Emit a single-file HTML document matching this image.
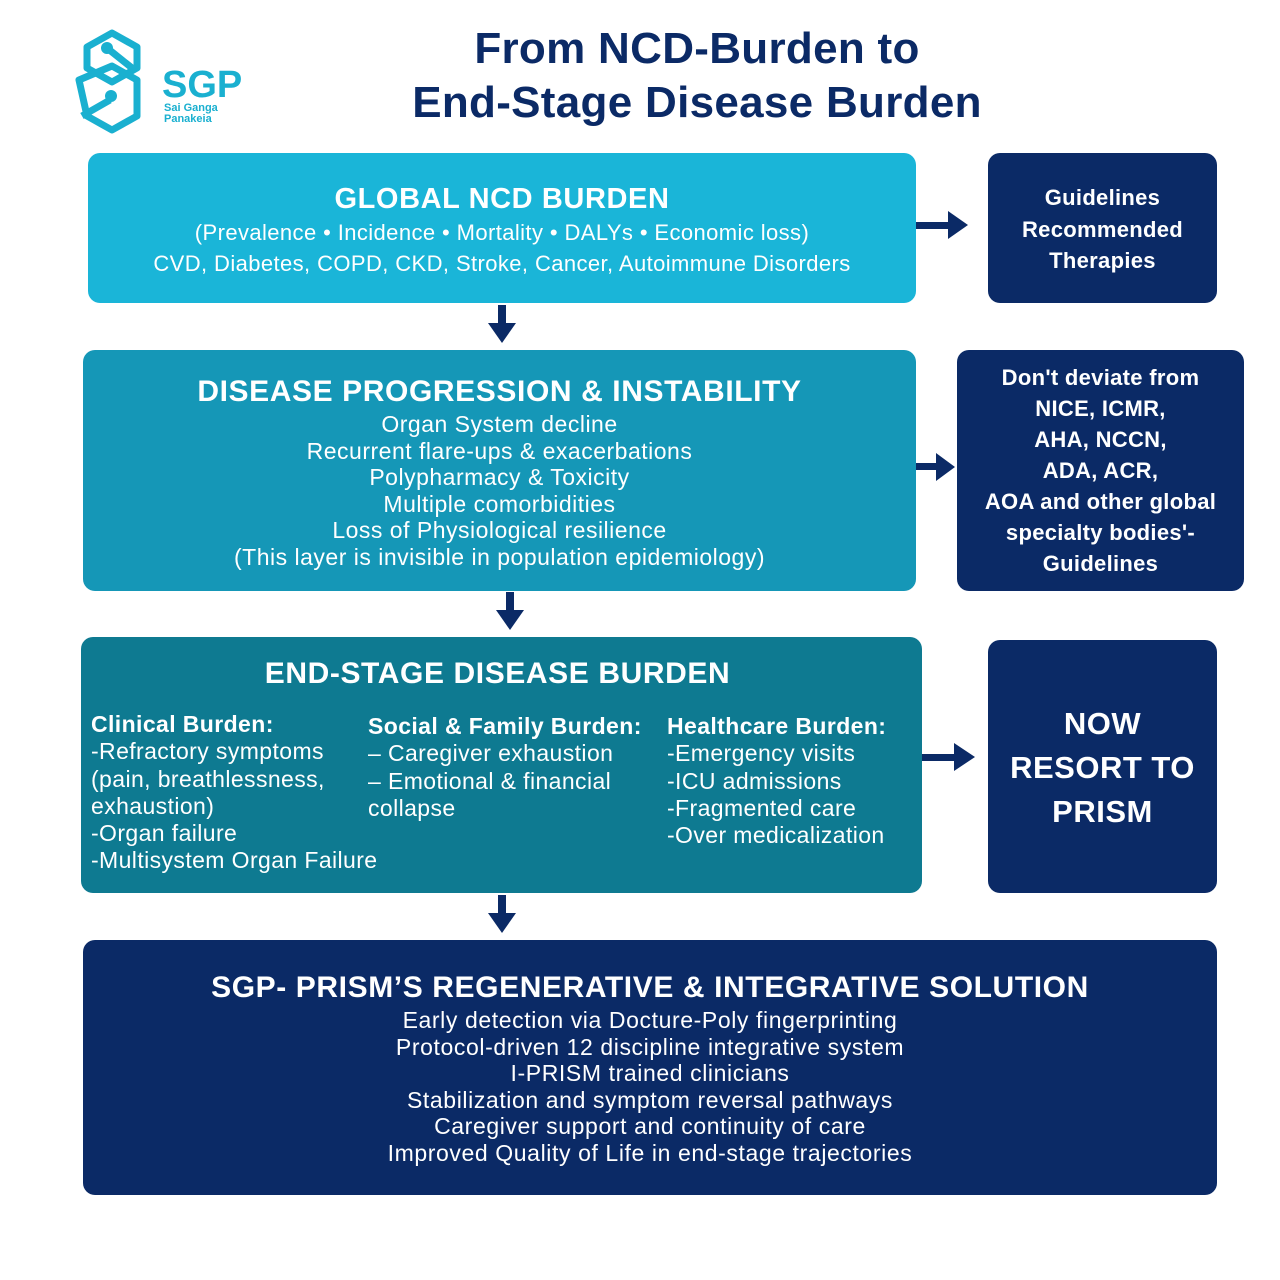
<!DOCTYPE html>
<html><head><meta charset="utf-8"><style>
body{margin:0;width:1280px;height:1280px;background:#fff;position:relative;font-family:"Liberation Sans",sans-serif;overflow:hidden}
.b{position:absolute;border-radius:12px;color:#fff;text-align:center;box-sizing:border-box}
.h{font-weight:bold}
.t{position:absolute;white-space:nowrap}
svg{position:absolute;left:0;top:0}
.hd{letter-spacing:0.6px}
</style></head><body>
<svg width="1280" height="1280">
<g fill="none" stroke="#1ab0d0" stroke-width="7" stroke-linejoin="round">
<path d="M112 33 L137 47 L137 68 L112 82 L87 68 L87 47 Z"/>
<path d="M112 66 L137 80 L137 116 L112 130 L87 116 L79 80 Z"/>
<path d="M107 48 L132 68"/><path d="M110 100 L82 116"/>
</g>
<circle cx="107" cy="48" r="6" fill="#1ab0d0"/><circle cx="111" cy="96" r="6" fill="#1ab0d0"/>
<g fill="#0b2a66">
<rect x="916" y="222" width="36" height="7"/><path d="M948 211 L968 225 L948 239 Z"/>
<rect x="498" y="305" width="8" height="22"/><path d="M488 323 L502 343 L516 323 Z"/>
<rect x="916" y="463" width="24" height="7"/><path d="M936 453 L955 467 L936 481 Z"/>
<rect x="506" y="592" width="8" height="22"/><path d="M496 610 L510 630 L524 610 Z"/>
<rect x="922" y="754" width="36" height="7"/><path d="M954 743 L975 757 L954 771 Z"/>
<rect x="498" y="895" width="8" height="22"/><path d="M488 913 L502 933 L516 913 Z"/>
</g>
</svg>
<div class="t h" style="left:162px;top:64px;font-size:38px;color:#1ab0d0">SGP</div>
<div class="t" style="left:164px;top:103px;font-size:11px;line-height:11px;color:#1ab0d0;font-weight:bold">Sai Ganga<br>Panakeia</div>
<div class="t h" style="left:347px;width:700px;top:22px;font-size:44px;line-height:54px;text-align:center;color:#0b2a66;letter-spacing:0.3px">From NCD-Burden to<br>End-Stage Disease Burden</div>

<div class="b" style="left:88px;top:153px;width:828px;height:150px;background:#1ab5d8;padding-top:28px">
<div class="h hd" style="font-size:29px;line-height:36px">GLOBAL NCD BURDEN</div>
<div style="font-size:22px;line-height:31px;letter-spacing:0.4px">(Prevalence • Incidence • Mortality • DALYs • Economic loss)<br>CVD, Diabetes, COPD, CKD, Stroke, Cancer, Autoimmune Disorders</div></div>
<div class="b h" style="left:988px;top:153px;width:229px;height:150px;background:#0b2a66;font-size:22px;line-height:31.5px;padding-top:29px;letter-spacing:0.3px">Guidelines<br>Recommended<br>Therapies</div>

<div class="b" style="left:83px;top:350px;width:833px;height:241px;background:#1597b7;padding-top:23px">
<div class="h hd" style="font-size:30px;line-height:38px">DISEASE PROGRESSION &amp; INSTABILITY</div>
<div style="font-size:23px;line-height:26.5px;letter-spacing:0.5px">Organ System decline<br>Recurrent flare-ups &amp; exacerbations<br>Polypharmacy &amp; Toxicity<br>Multiple comorbidities<br>Loss of Physiological resilience<br>(This layer is invisible in population epidemiology)</div></div>
<div class="b h" style="left:957px;top:350px;width:287px;height:241px;background:#0b2a66;font-size:22px;line-height:31px;padding-top:12px;letter-spacing:0.3px">Don't deviate from<br>NICE, ICMR,<br>AHA, NCCN,<br>ADA, ACR,<br>AOA and other global<br>specialty bodies'-<br>Guidelines</div>

<div class="b" style="left:81px;top:637px;width:841px;height:256px;background:#0e7a91;text-align:left">
<div class="h hd" style="position:absolute;left:0;right:8px;top:20px;text-align:center;font-size:30px">END-STAGE DISEASE BURDEN</div>
<div style="position:absolute;left:10px;top:74px;font-size:23px;line-height:27.3px;white-space:nowrap;letter-spacing:0.4px"><b>Clinical Burden:</b><br>-Refractory symptoms<br>(pain, breathlessness,<br>exhaustion)<br>-Organ failure<br>-Multisystem Organ Failure</div>
<div style="position:absolute;left:287px;top:76px;font-size:23px;line-height:27.3px;white-space:nowrap;letter-spacing:0.4px"><b>Social &amp; Family Burden:</b><br>– Caregiver exhaustion<br>– Emotional &amp; financial<br>collapse</div>
<div style="position:absolute;left:586px;top:76px;font-size:23px;line-height:27.3px;white-space:nowrap;letter-spacing:0.4px"><b>Healthcare Burden:</b><br>-Emergency visits<br>-ICU admissions<br>-Fragmented care<br>-Over medicalization</div></div>
<div class="b h" style="left:988px;top:640px;width:229px;height:253px;background:#0b2a66;font-size:31px;line-height:44px;padding-top:62px;letter-spacing:0.5px">NOW<br>RESORT TO<br>PRISM</div>

<div class="b" style="left:83px;top:940px;width:1134px;height:255px;background:#0b2a66;padding-top:29px">
<div class="h hd" style="font-size:30px;line-height:38px">SGP- PRISM’S REGENERATIVE &amp; INTEGRATIVE SOLUTION</div>
<div style="font-size:23px;line-height:26.6px;letter-spacing:0.6px">Early detection via Docture-Poly fingerprinting<br>Protocol-driven 12 discipline integrative system<br>I-PRISM trained clinicians<br>Stabilization and symptom reversal pathways<br>Caregiver support and continuity of care<br>Improved Quality of Life in end-stage trajectories</div></div>
</body></html>
